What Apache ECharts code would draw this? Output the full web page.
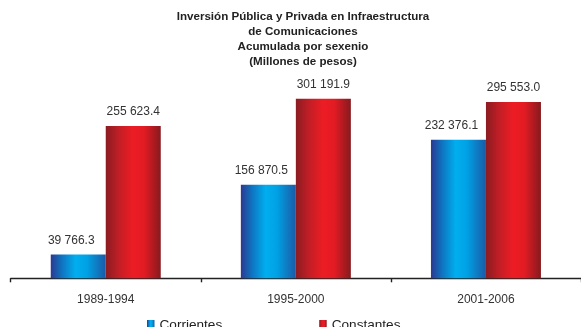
<!DOCTYPE html>
<html>
<head>
<meta charset="utf-8">
<script src="https://cdn.jsdelivr.net/npm/echarts@6/dist/echarts.min.js"></script>
<style>
html,body{margin:0;padding:0;background:#fff;}
#chart{width:581px;height:327px;}
</style>
</head>
<body>
<div id="chart"></div>
<script>
var categories = ['1989-1994', '1995-2000', '2001-2006'];
var corrientes = [39766.3, 156870.5, 232376.1];
var constantes = [255623.4, 301191.9, 295553.0];
var seriesNames = ['Corrientes', 'Constantes'];
var titleText = 'Inversión Pública y Privada en Infraestructura\nde Comunicaciones\nAcumulada por sexenio\n(Millones de pesos)';

function fmt(v) {
  var parts = v.toFixed(1).split('.');
  var intPart = parts[0].replace(/\B(?=(\d{3})+(?!\d))/g, ' ');
  return intPart + '.' + parts[1];
}

var blueGrad = new echarts.graphic.LinearGradient(0, 0, 1, 0, [
  {offset: 0, color: '#2b3990'},
  {offset: 0.2, color: '#0f73c0'},
  {offset: 0.45, color: '#00aeef'},
  {offset: 0.65, color: '#00a2e5'},
  {offset: 1, color: '#1b5aa6'}
]);
var redGrad = new echarts.graphic.LinearGradient(0, 0, 1, 0, [
  {offset: 0, color: '#8a1c21'},
  {offset: 0.25, color: '#c41e26'},
  {offset: 0.5, color: '#ed1c24'},
  {offset: 0.7, color: '#e21b23'},
  {offset: 1, color: '#861a1e'}
]);

var chart = echarts.init(document.getElementById('chart'));
function labelCfg(dx) {
  return {
    show: true,
    position: 'top',
    distance: 8,
    offset: [dx, 0],
    color: '#333',
    fontFamily: 'Liberation Sans, Arial, sans-serif',
    fontSize: 12,
    formatter: function (p) { return fmt(p.value); }
  };
}
chart.setOption({
  animation: false,
  backgroundColor: '#fff',
  title: {
    text: titleText,
    left: 303,
    top: 9.5,
    padding: 0,
    textAlign: 'center',
    textStyle: {
      fontFamily: 'Liberation Sans, Arial, sans-serif',
      fontSize: 11.6,
      fontWeight: 'bold',
      color: '#222',
      lineHeight: 15,
      align: 'center'
    }
  },
  legend: {
    data: [
      {name: seriesNames[0], itemStyle: {color: blueGrad}},
      {name: seriesNames[1], itemStyle: {color: redGrad}}
    ],
    left: 147,
    top: 318,
    padding: 0,
    itemWidth: 7.5,
    itemHeight: 10,
    itemGap: 97,
    icon: 'rect',
    textStyle: {
      fontFamily: 'Liberation Sans, Arial, sans-serif',
      fontSize: 13.6,
      color: '#222'
    }
  },
  grid: {
    left: 10.7,
    width: 573,
    top: 69.6,
    bottom: 48.7,
    containLabel: false
  },
  xAxis: {
    type: 'category',
    data: categories,
    axisLine: {show: true, lineStyle: {color: '#222', width: 1.4}},
    axisTick: {show: true, length: 4, lineStyle: {color: '#222', width: 1.4}},
    axisLabel: {
      color: '#333',
      fontFamily: 'Liberation Sans, Arial, sans-serif',
      fontSize: 12,
      margin: 15.5
    }
  },
  yAxis: {
    type: 'value',
    min: 0,
    max: 350000,
    show: false,
    splitLine: {show: false}
  },
  series: [
    {
      name: seriesNames[0],
      type: 'bar',
      data: corrientes,
      barWidth: 55,
      barGap: '0%',
      itemStyle: {color: blueGrad},
      label: labelCfg(-7)
    },
    {
      name: seriesNames[1],
      type: 'bar',
      data: constantes,
      barWidth: 55,
      barGap: '0%',
      itemStyle: {color: redGrad},
      label: labelCfg(0)
    }
  ]
});
</script>
</body>
</html>
